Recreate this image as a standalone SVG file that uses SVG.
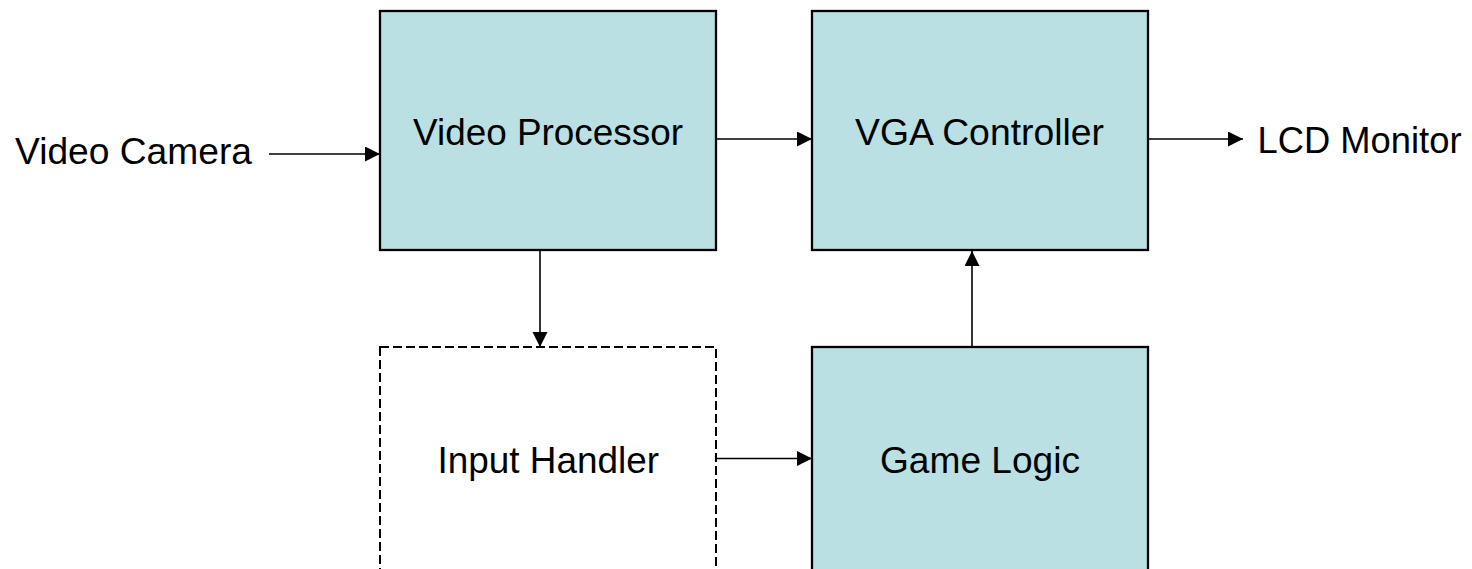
<svg xmlns="http://www.w3.org/2000/svg" width="1472" height="569" viewBox="0 0 1472 569">
  <style>
    .block { fill: #BAE0E3; stroke: #000; stroke-width: 2.3; }
    .pending { fill: #fff; stroke: #000; stroke-width: 2; stroke-dasharray: 9 4; }
    .label { font-family: "Liberation Sans", Arial, sans-serif; font-size: 37px; fill: #000; }
    .wire { stroke: #000; stroke-width: 1.6; fill: none; marker-end: url(#head); }
  </style>
  <defs>
    <marker id="head" markerUnits="userSpaceOnUse" markerWidth="16" markerHeight="16" refX="15" refY="7.5" orient="auto">
      <path d="M0,0 L15,7.5 L0,15 z" fill="#000"/>
    </marker>
  </defs>
  <rect width="1472" height="569" fill="#fff"/>

  <!-- external endpoints -->
  <g id="video-camera">
    <text class="label" x="15" y="164" textLength="237" lengthAdjust="spacingAndGlyphs">Video Camera</text>
  </g>
  <g id="lcd-monitor">
    <text class="label" x="1257.5" y="152.5" textLength="204" lengthAdjust="spacingAndGlyphs">LCD Monitor</text>
  </g>

  <!-- processing blocks -->
  <g id="video-processor">
    <rect class="block" x="380" y="11" width="336" height="239"/>
    <text class="label" x="413" y="144.5" textLength="270" lengthAdjust="spacingAndGlyphs">Video Processor</text>
  </g>
  <g id="vga-controller">
    <rect class="block" x="812" y="11" width="336" height="239"/>
    <text class="label" x="855" y="144.5" textLength="249" lengthAdjust="spacingAndGlyphs">VGA Controller</text>
  </g>
  <g id="input-handler">
    <rect class="pending" x="380" y="347" width="336" height="260"/>
    <text class="label" x="437.5" y="472.5" textLength="221.5" lengthAdjust="spacingAndGlyphs">Input Handler</text>
  </g>
  <g id="game-logic">
    <rect class="block" x="812" y="347" width="336" height="260"/>
    <text class="label" x="880" y="472.5" textLength="200" lengthAdjust="spacingAndGlyphs">Game Logic</text>
  </g>

  <!-- connectors -->
  <g id="connectors">
    <line class="wire" x1="269" y1="154" x2="380" y2="154"/>
    <line class="wire" x1="717" y1="139" x2="812" y2="139"/>
    <line class="wire" x1="1149" y1="139" x2="1243" y2="139"/>
    <line class="wire" x1="540" y1="251" x2="540" y2="347"/>
    <line class="wire" x1="717" y1="458.5" x2="812" y2="458.5"/>
    <line class="wire" x1="972" y1="346" x2="972" y2="251"/>
  </g>
</svg>
